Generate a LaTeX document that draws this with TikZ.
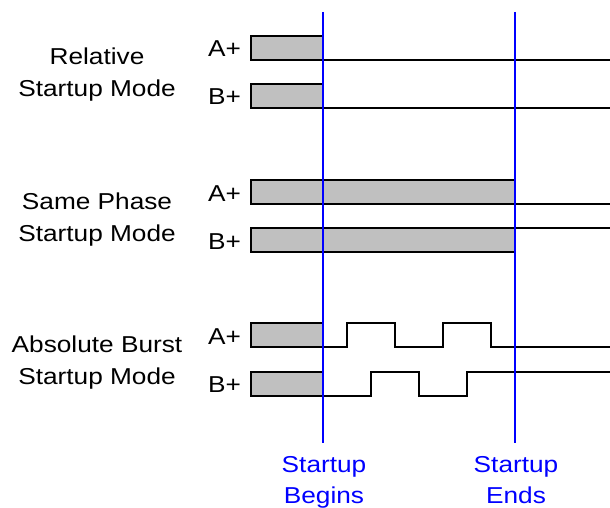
\documentclass[tikz,border=0pt]{standalone}
\usepackage{fontspec}
\newfontfamily\labfont[FakeStretch=1.14]{Liberation Sans}
\begin{document}
\begin{tikzpicture}[x=1pt,y=-1pt,
  lab/.style={inner sep=0pt,anchor=base,font=\labfont\fontsize{23}{27}\selectfont},
  bluelab/.style={lab,text={rgb,255:red,0;green,0;blue,255}},
  wave/.style={line width=2.2pt,black,line join=miter},
  pulse/.style={wave,fill={rgb,255:red,192;green,192;blue,192}},
  marker/.style={line width=1.5pt,draw={rgb,255:red,0;green,0;blue,255}}]
\useasboundingbox (0,0) rectangle (610,508);
% left labels
\node[lab] (r1) at (97,65) {Relative};
\node[lab] (r2) at (97,97) {Startup Mode};
\node[lab] (s1) at (97,209) {Same Phase};
\node[lab] (s2) at (97,241) {Startup Mode};
\node[lab] (b1) at (97,352) {Absolute Burst};
\node[lab] (b2) at (97,384) {Startup Mode};
% channel labels
\node[lab] (ra) at (224.5,57) {A+};
\node[lab] (rb) at (224.5,105) {B+};
\node[lab] (sa) at (224.5,201) {A+};
\node[lab] (sb) at (224.5,249) {B+};
\node[lab] (ba) at (224.5,344) {A+};
\node[lab] (bb) at (224.5,392) {B+};
% relative
\draw[pulse] (251,36) rectangle (323,60);
\draw[wave] (323,60) -- (610,60);
\draw[pulse] (251,84) rectangle (323,108);
\draw[wave] (323,108) -- (610,108);
% same phase
\draw[pulse] (251,180) rectangle (515,204);
\draw[wave] (515,204) -- (610,204);
\draw[pulse] (251,228) rectangle (515,252);
\draw[wave] (515,228) -- (610,228);
% absolute burst
\draw[pulse] (251,323) rectangle (323,347);
\draw[wave] (323,347) -- (347,347) -- (347,323) -- (395,323) -- (395,347)
  -- (443,347) -- (443,323) -- (491,323) -- (491,347) -- (610,347);
\draw[pulse] (251,372) rectangle (323,396);
\draw[wave] (323,396) -- (371,396) -- (371,372) -- (419,372) -- (419,396)
  -- (467,396) -- (467,372) -- (610,372);
% markers
\coordinate (m1t) at (323,12);
\coordinate (m1b) at (323,443);
\coordinate (m2t) at (515,12);
\coordinate (m2b) at (515,443);
\draw[marker] (m1t) -- (m1b);
\draw[marker] (m2t) -- (m2b);
\node[bluelab] (sb1) at (324,472) {Startup};
\node[bluelab] (sb2) at (324,503) {Begins};
\node[bluelab] (se1) at (516,472) {Startup};
\node[bluelab] (se2) at (516,503) {Ends};
\end{tikzpicture}
\end{document}
